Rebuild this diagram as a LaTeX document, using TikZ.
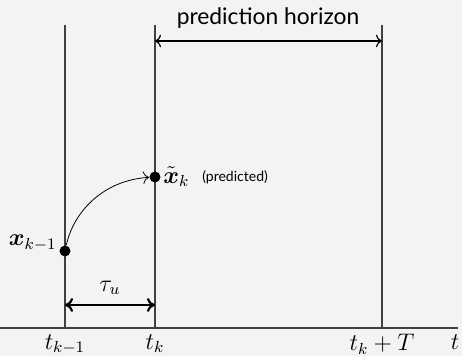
\documentclass[tikz,border=0pt]{standalone}
\usepackage{amsmath}
\usepackage{fontspec}
\setmainfont{Lato}
\usetikzlibrary{arrows.meta}
\definecolor{bgcol}{RGB}{243,243,243}

\begin{document}
\begin{tikzpicture}[
        x=0.5pt, y=-0.5pt,
        grid/.style={draw=black!75, line width=0.6pt},
        span/.style={{To[length=3pt]}-{To[length=3pt]}, line width=0.6pt},
        spanthick/.style={{To[length=4pt,width=7pt]}-{To[length=4pt,width=7pt]}, line width=1.1pt},
        dot/.style={circle, fill=black, inner sep=0pt, minimum size=5.5pt},
        lab/.style={inner sep=1pt, font=\large}
    ]

        % frame
        \fill[bgcol] (0,0) rectangle (462,356);
        \useasboundingbox (0,0) rectangle (462,356);

        % time axis and ticks
        \coordinate (o) at (0,328);
        \coordinate (e) at (458,328);
        \coordinate (ta) at (65,328);
        \coordinate (tb) at (155,328);
        \coordinate (tc) at (382,328);
        \coordinate (ha) at (65,25);
        \coordinate (hb) at (155,25);
        \coordinate (hc) at (382,25);
        \draw[grid] (o) -- (e);
        \draw[grid] (ha) -- (ta);
        \draw[grid] (hb) -- (tb);
        \draw[grid] (hc) -- (tc);

        \node[lab, below=2pt] (lta) at (ta) {$t_{k-1}$};
        \node[lab, below=2pt] (ltb) at (tb) {$t_k$};
        \node[lab, below=2pt] (ltc) at (tc) {$t_k + T$};
        \node[lab, below=2pt] (lt) at (455,328) {$t$};

        % prediction horizon
        \coordinate (pa) at (155,41);
        \coordinate (pb) at (382,41);
        \draw[span] (pa) -- (pb);
        \node[lab, font=\fontsize{11.4}{13}\selectfont] (ph) at (268,18) {prediction horizon};

        % states
        \node[dot] (xk1) at (65,251) {};
        \node[dot] (xk) at (155,177) {};
        \node[lab, left=3pt] (lxk1) at (65,243) {$\boldsymbol{x}_{k-1}$};
        \node[lab, right=3pt] (lxk) at (xk) {$\tilde{\boldsymbol{x}}_k$};
        \node[lab, right=4pt, font=\scriptsize] (lpred) at (lxk.east) {(predicted)};
        \draw[-{To[length=3pt]}] (xk1) .. controls (74,210) and (105,180) .. (xk);

        % delay
        \coordinate (da) at (65,305);
        \coordinate (db) at (155,305);
        \draw[spanthick] (da) -- (db);
        \node[lab] (tau) at (110,288) {$\tau_u$};

    \end{tikzpicture}
\end{document}
